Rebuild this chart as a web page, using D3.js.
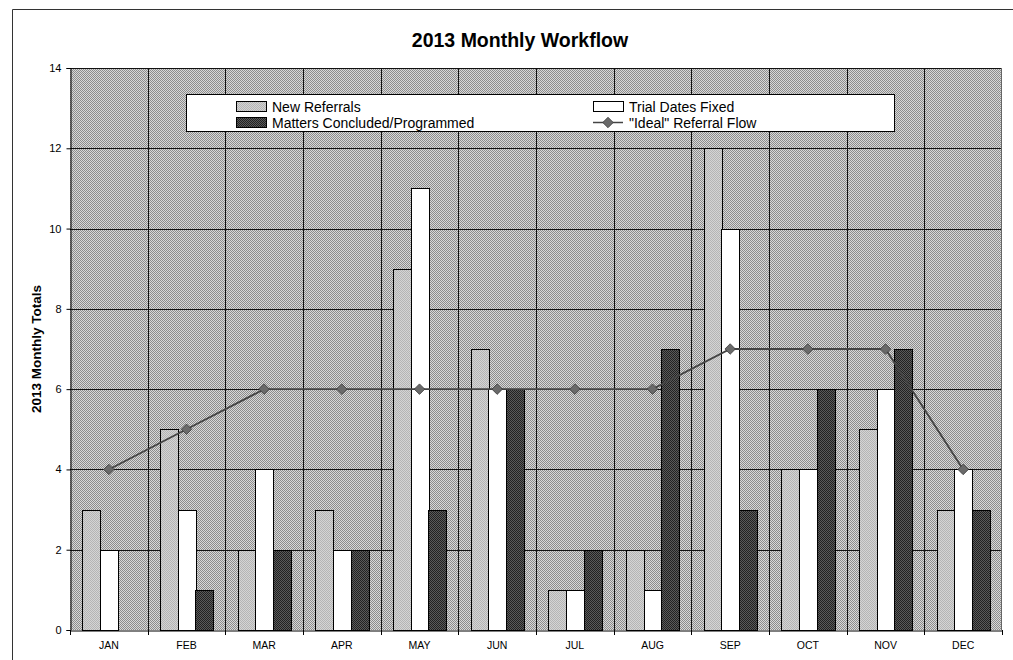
<!DOCTYPE html>
<html>
<head>
<meta charset="utf-8">
<script src="https://cdn.jsdelivr.net/npm/d3@7"></script>
<style>
  html, body { margin: 0; padding: 0; background: #fff; }
  svg { display: block; font-family: "Liberation Sans", Arial, sans-serif; }
</style>
</head>
<body>
<svg id="chart" width="1013" height="660"></svg>
<script>
const months = ["JAN","FEB","MAR","APR","MAY","JUN","JUL","AUG","SEP","OCT","NOV","DEC"];
const newReferrals = [3,5,2,3,9,7,1,2,12,4,5,3];
const trialDatesFixed = [2,3,4,2,11,6,1,1,10,4,6,4];
const mattersConcluded = [0,1,2,2,3,6,2,7,3,6,7,3];
const idealFlow = [4,5,6,6,6,6,6,6,7,7,7,4];
const yTicks = [0,2,4,6,8,10,12,14];
const seriesNames = ["New Referrals","Trial Dates Fixed","Matters Concluded/Programmed"];
const lineName = "\"Ideal\" Referral Flow";
const titleText = "2013 Monthly Workflow";
const yAxisTitle = "2013 Monthly Totals";

(function () {
const svg = d3.select("#chart");
const pLeft = 70, pRight = 1002, pTop = 68, pBottom = 630;

// patterns
const defs = svg.append("defs");
function checker(id, a, b) {
  const p = defs.append("pattern").attr("id", id).attr("patternUnits", "userSpaceOnUse")
    .attr("width", 2).attr("height", 2);
  p.append("rect").attr("width", 2).attr("height", 2).attr("fill", a);
  p.append("rect").attr("width", 1).attr("height", 1).attr("fill", b);
  p.append("rect").attr("x", 1).attr("y", 1).attr("width", 1).attr("height", 1).attr("fill", b);
}
checker("bgPat", "#d8d8d8", "#8c8c8c");
checker("nrPat", "#d4d4d4", "#b4b4b4");
checker("mcPat", "#5a5a5a", "#222222");

// outer frame
svg.append("line").attr("x1", 12.5).attr("x2", 12.5).attr("y1", 9.5).attr("y2", 660).attr("stroke", "#333");
svg.append("line").attr("x1", 12.5).attr("x2", 1013).attr("y1", 9.5).attr("y2", 9.5).attr("stroke", "#333");

const x = d3.scaleBand().domain(months).range([pLeft, pRight]).paddingInner(0).paddingOuter(0);
const bw = x.bandwidth();
const xs = d3.scaleBand().domain(seriesNames).range([bw * 0.16, bw * 0.84]).padding(0);
const y = d3.scaleLinear().domain([0, 14]).range([pBottom, pTop]);

// plot background
svg.append("rect").attr("x", pLeft).attr("y", pTop).attr("width", pRight - pLeft).attr("height", pBottom - pTop)
  .attr("fill", "url(#bgPat)");

// gridlines
const g = svg.append("g");
g.selectAll("line.h").data(yTicks.filter(d => d > 0)).join("line")
  .attr("x1", pLeft).attr("x2", pRight)
  .attr("y1", d => Math.round(y(d)) + 0.5).attr("y2", d => Math.round(y(d)) + 0.5)
  .attr("stroke", "#111").attr("stroke-width", 1);
g.selectAll("line.v").data(months.slice(1)).join("line")
  .attr("x1", d => Math.round(x(d)) + 0.5).attr("x2", d => Math.round(x(d)) + 0.5)
  .attr("y1", pTop).attr("y2", pBottom)
  .attr("stroke", "#111").attr("stroke-width", 1);
svg.append("line").attr("x1", pRight - 0.5).attr("x2", pRight - 0.5).attr("y1", pTop).attr("y2", pBottom).attr("stroke", "#666");

// bars
const seriesData = [newReferrals, trialDatesFixed, mattersConcluded];
const fills = ["url(#nrPat)", "#ffffff", "url(#mcPat)"];
seriesData.forEach((vals, si) => {
  svg.append("g").selectAll("rect").data(vals.map((v, i) => ({ m: months[i], v })).filter(d => d.v > 0)).join("rect")
    .attr("x", d => Math.round(x(d.m) + xs(seriesNames[si])) + 0.5)
    .attr("y", d => Math.round(y(d.v)) + 0.5)
    .attr("width", Math.round(xs.bandwidth()))
    .attr("height", d => Math.round(y(0)) - Math.round(y(d.v)))
    .attr("fill", fills[si]).attr("stroke", "#000").attr("stroke-width", 1);
});

// axes
const yAxis = d3.axisLeft(y).tickValues(yTicks).tickSize(4).tickPadding(5);
const ya = svg.append("g").attr("transform", `translate(${pLeft + 0.5},0)`).call(yAxis);
ya.select(".domain").attr("stroke", "#000");
ya.selectAll("text").attr("font-size", 11).attr("fill", "#000").attr("font-family", "Liberation Sans, Arial, sans-serif");

const xAxis = d3.axisBottom(x).tickSize(0).tickPadding(11);
const xa = svg.append("g").attr("transform", `translate(0,${pBottom + 0.5})`).call(xAxis);
xa.select(".domain").attr("stroke", "#000");
xa.selectAll("text").attr("font-size", 10.5).attr("fill", "#000").attr("font-family", "Liberation Sans, Arial, sans-serif");
svg.append("g").selectAll("line").data(months.concat(["_end"])).join("line")
  .attr("x1", (d, i) => Math.round(pLeft + i * bw) + 0.5).attr("x2", (d, i) => Math.round(pLeft + i * bw) + 0.5)
  .attr("y1", pBottom).attr("y2", pBottom + 5).attr("stroke", "#000");

// ideal line
const lineGen = d3.line().x((d, i) => x(months[i]) + bw / 2).y(d => y(d));
svg.append("path").datum(idealFlow).attr("d", lineGen).attr("fill", "none")
  .attr("stroke", "#444").attr("stroke-width", 1.8);
const diamond = d3.symbol().type(d3.symbolDiamond2).size(70);
svg.append("g").selectAll("path").data(idealFlow).join("path")
  .attr("transform", (d, i) => `translate(${x(months[i]) + bw / 2},${y(d)})`)
  .attr("d", diamond).attr("fill", "#6a6a6a").attr("stroke", "#3a3a3a").attr("stroke-width", 0.8);

// title
svg.append("text").attr("x", 520).attr("y", 47).attr("text-anchor", "middle")
  .attr("font-size", 19.5).attr("font-weight", "bold").text(titleText);

// y axis title
svg.append("text").attr("transform", `translate(36,${(pTop + pBottom) / 2}) rotate(-90)`)
  .attr("dy", "0.35em")
  .attr("text-anchor", "middle").attr("font-size", 13.5).attr("font-weight", "bold").text(yAxisTitle);

// legend
const lg = svg.append("g");
lg.append("rect").attr("x", 186.5).attr("y", 94.5).attr("width", 708).attr("height", 37)
  .attr("fill", "#fff").attr("stroke", "#000");
const legendItems = [
  { name: seriesNames[0], type: "bar", fill: fills[0], col: 0, row: 0 },
  { name: seriesNames[2], type: "bar", fill: fills[2], col: 0, row: 1 },
  { name: seriesNames[1], type: "bar", fill: fills[1], col: 1, row: 0 },
  { name: lineName, type: "line", col: 1, row: 1 }
];
const colX = [236, 593];
const rowY = [101, 117];
legendItems.forEach(it => {
  const sx = colX[it.col], sy = rowY[it.row];
  if (it.type === "bar") {
    lg.append("rect").attr("x", sx + 0.5).attr("y", sy + 0.5).attr("width", 30).attr("height", 10)
      .attr("fill", it.fill).attr("stroke", "#000");
  } else {
    lg.append("line").attr("x1", sx).attr("x2", sx + 30).attr("y1", sy + 5.5).attr("y2", sy + 5.5)
      .attr("stroke", "#444").attr("stroke-width", 1.5);
    lg.append("path").attr("transform", `translate(${sx + 15},${sy + 5.5})`).attr("d", diamond)
      .attr("fill", "#6a6a6a").attr("stroke", "#3a3a3a").attr("stroke-width", 0.8);
  }
  lg.append("text").attr("x", sx + 36).attr("y", sy + 10.5).attr("font-size", 14).text(it.name);
});
})();
</script>
</body>
</html>
